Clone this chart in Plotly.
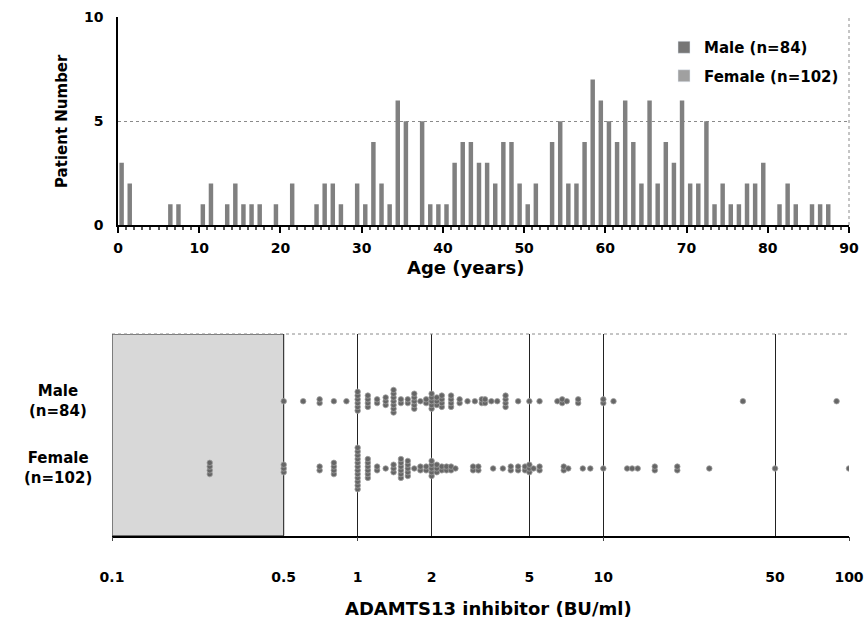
import numpy as np
import plotly.graph_objects as go

# ---------------- data ----------------
ages = [0, 1, 6, 7, 10, 11, 13, 14, 15, 16, 17, 19, 21, 24, 25, 26, 27, 29, 30, 31,
        32, 33, 34, 35, 37, 38, 39, 40, 41, 42, 43, 44, 45, 46, 47, 48, 49, 50, 51,
        53, 54, 55, 56, 57, 58, 59, 60, 61, 62, 63, 64, 65, 66, 67, 68, 69, 70, 71,
        72, 73, 74, 75, 76, 77, 78, 79, 81, 82, 83, 85, 86, 87]
patient_counts = [3, 2, 1, 1, 1, 2, 1, 2, 1, 1, 1, 1, 2, 1, 2, 2, 1, 2, 1, 4,
                  2, 1, 6, 5, 5, 1, 1, 1, 3, 4, 4, 3, 3, 2, 4, 4, 2, 1, 2,
                  4, 5, 2, 2, 4, 7, 6, 5, 4, 6, 4, 2, 6, 2, 4, 3, 6, 2, 2,
                  5, 1, 2, 1, 1, 2, 2, 3, 1, 2, 1, 1, 1, 1]

male_values = [0.5, 0.6, 0.7, 0.8, 0.9, 1.0, 1.1, 1.2, 1.3, 1.4, 1.5, 1.6, 1.7, 1.8, 1.9,
               2.0, 2.1, 2.2, 2.4, 2.6, 2.8, 3.0, 3.2, 3.3, 3.5, 3.7, 4.0, 4.5, 5.0, 5.5,
               6.5, 6.8, 7.1, 7.9, 10.0, 11.0, 37.0, 89.0]
male_counts = [1, 1, 2, 1, 1, 6, 4, 2, 3, 7, 2, 2, 5, 1, 2,
               5, 3, 4, 4, 2, 1, 1, 2, 2, 1, 1, 4, 1, 1, 1,
               1, 2, 1, 2, 2, 1, 1, 1]

female_values = [0.25, 0.5, 0.7, 0.8, 1.0, 1.1, 1.2, 1.3, 1.4, 1.5, 1.6, 1.7, 1.8, 1.9,
                 2.0, 2.1, 2.2, 2.3, 2.4, 2.5, 2.95, 3.1, 3.56, 3.9, 4.2, 4.5, 4.8, 5.0,
                 5.2, 5.5, 6.9, 7.2, 8.25, 8.85, 10.0, 12.5, 13.1, 13.8, 16.2, 20.0,
                 27.0, 50.0, 100.0]
female_counts = [4, 3, 2, 4, 12, 6, 2, 1, 3, 6, 5, 1, 2, 2,
                 5, 3, 2, 2, 2, 1, 2, 2, 1, 1, 2, 2, 2, 3,
                 1, 2, 2, 1, 1, 1, 1, 1, 1, 1, 2, 2,
                 1, 1, 1]

age_ticks = list(range(0, 91, 10))
count_ticks = [0, 5, 10]
inhib_ticks = [0.1, 0.5, 1, 2, 5, 10, 50, 100]
inhib_labels = ["0.1", "0.5", "1", "2", "5", "10", "50", "100"]
sex_rows = {"Male<br>(n=84)": 2, "Female<br>(n=102)": 1}

# ---------------- layout helpers ----------------
W, H = 867, 623
def fx(px):
    return px / W
def fy(py):
    return 1 - py / H

FONT = "DejaVu Sans"
BOLD = dict(family=FONT, size=12, color="black", weight="bold")

fig = go.Figure()

# top histogram
fig.add_trace(go.Bar(x=ages, y=patient_counts, width=0.55, offset=0.17,
                     marker=dict(color="#808080", line=dict(width=0)),
                     showlegend=False, xaxis="x", yaxis="y"))
fig.add_trace(go.Bar(x=[None], y=[None], name="Male (n=84)", legendgroup="m",
                     marker=dict(color="#767676"), xaxis="x", yaxis="y"))
fig.add_trace(go.Bar(x=[None], y=[None], name="Female (n=102)", legendgroup="f",
                     marker=dict(color="#a0a0a0"), xaxis="x", yaxis="y"))

# bottom: shaded region below 0.5
fig.add_trace(go.Scatter(x=[0.1, 0.5, 0.5, 0.1, 0.1], y=[0, 0, 3, 3, 0],
                         fill="toself", fillcolor="#d8d8d8", mode="lines",
                         line=dict(color="#222", width=1), showlegend=False,
                         hoverinfo="skip", xaxis="x2", yaxis="y2"))

def swarm(values, counts, base, step=0.056):
    xs, ys = [], []
    for v, n in zip(values, counts):
        offs = (np.arange(n) - (n - 1) / 2.0) * step
        xs.extend([v] * n)
        ys.extend(list(base + offs))
    return xs, ys

for vals, cnts, row in [(male_values, male_counts, 2), (female_values, female_counts, 1)]:
    xs, ys = swarm(vals, cnts, row)
    fig.add_trace(go.Scatter(x=xs, y=ys, mode="markers",
                             marker=dict(size=5.5, color="#666666",
                                         line=dict(width=0.8, color="#a0a0a0")),
                             showlegend=False, xaxis="x2", yaxis="y2"))

fig.update_layout(
    width=W, height=H, margin=dict(l=0, r=0, t=0, b=0),
    paper_bgcolor="white", plot_bgcolor="white",
    barmode="overlay", font=BOLD,
    legend=dict(x=fx(664), y=fy(31), xanchor="left", yanchor="top",
                bgcolor="rgba(0,0,0,0)", font=dict(family=FONT, size=15, weight="bold"),
                tracegroupgap=6, itemwidth=30),
    xaxis=dict(domain=[fx(118), fx(849)], range=[0, 90], anchor="y",
               tickmode="linear", tick0=0, dtick=10,
               ticks="outside", ticklen=6, tickcolor="black", tickwidth=1.5,
               minor=dict(dtick=1, tick0=0, ticks="outside", ticklen=3,
                          tickcolor="#555", showgrid=False),
               showline=True, linecolor="black", linewidth=1.5,
               showgrid=False, zeroline=False, automargin=False,
               ticklabeloverflow="allow",
               tickfont=dict(family=FONT, size=14, weight="bold"),
               ticklabelstandoff=3),
    yaxis=dict(domain=[fy(225), fy(17.3)], range=[0, 10], anchor="x",
               tickvals=count_ticks, ticks="", tickcolor="black",
               showline=True, linecolor="black", linewidth=1.5,
               showgrid=True, gridcolor="#8a8a8a", griddash="dot", gridwidth=1,
               zeroline=False, automargin=False,
               tickfont=dict(family=FONT, size=14, weight="bold"),
               ticklabelstandoff=10),
    xaxis2=dict(domain=[fx(112), fx(849)], type="log", range=[-1, 2], anchor="y2",
                tickvals=inhib_ticks, ticktext=inhib_labels,
                ticks="", showline=True, linecolor="black", linewidth=1.5,
                showgrid=True, gridcolor="#222", gridwidth=1, zeroline=False,
                minor=dict(tickvals=[0.1, 1, 10, 100], ticks="outside", ticklen=4,
                           tickcolor="#444", showgrid=False),
                automargin=False, ticklabeloverflow="allow",
                tickfont=dict(family=FONT, size=14, weight="bold"),
                ticklabelstandoff=28),
    yaxis2=dict(domain=[fy(535.7), fy(334)], range=[0, 3], anchor="x2",
                showticklabels=False, ticks="", showgrid=False, zeroline=False,
                showline=False, automargin=False),
    shapes=[
        dict(type="line", xref="x domain", yref="y domain", x0=1, x1=1, y0=0, y1=1,
             line=dict(color="#8a8a8a", width=1, dash="dot")),
        dict(type="line", xref="x2 domain", yref="y2 domain", x0=0, x1=1, y0=1, y1=1,
             line=dict(color="#8a8a8a", width=1, dash="dot")),
    ],
)

CENTER = dict(xanchor="center", yanchor="middle", showarrow=False)
annos = [
    dict(text="Age (years)", x=fx(466), y=fy(267), xref="paper", yref="paper",
         font=dict(family=FONT, size=18, weight="bold"), **CENTER),
    dict(text="Patient Number", x=fx(62), y=fy(121), xref="paper", yref="paper",
         textangle=-90, font=dict(family=FONT, size=15, weight="bold"), **CENTER),
    dict(text="ADAMTS13 inhibitor (BU/ml)", x=fx(488), y=fy(608), xref="paper", yref="paper",
         font=dict(family=FONT, size=18, weight="bold"), **CENTER),
]
for label, row in sex_rows.items():
    annos.append(dict(text=label, x=fx(58), y=row, xref="paper", yref="y2",
                      align="center", font=dict(family=FONT, size=15, weight="bold"),
                      **CENTER))
fig.update_layout(annotations=annos)

# remove the browser's default 8px body margin so the figure fills the window exactly
fig.write_html("out.html", config={"displayModeBar": False},
               post_script="document.body.style.margin='0px';")
